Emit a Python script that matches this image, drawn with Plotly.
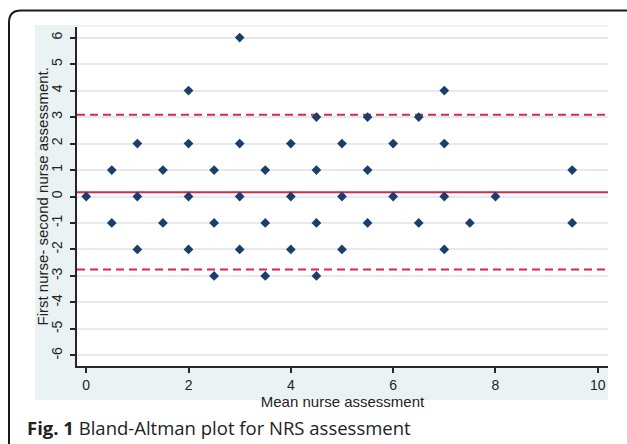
import plotly.graph_objects as go

# ---- data ----
mean_assessment = [3,
                   2, 7,
                   4.5, 5.5, 6.5,
                   1, 2, 3, 4, 5, 6, 7,
                   0.5, 1.5, 2.5, 3.5, 4.5, 5.5, 9.5,
                   0, 1, 2, 3, 4, 5, 6, 7, 8,
                   0.5, 1.5, 2.5, 3.5, 4.5, 5.5, 6.5, 7.5, 9.5,
                   1, 2, 3, 4, 5, 7,
                   2.5, 3.5, 4.5]
difference = [6,
              4, 4,
              3, 3, 3,
              2, 2, 2, 2, 2, 2, 2,
              1, 1, 1, 1, 1, 1, 1,
              0, 0, 0, 0, 0, 0, 0, 0, 0,
              -1, -1, -1, -1, -1, -1, -1, -1, -1,
              -2, -2, -2, -2, -2, -2,
              -3, -3, -3]
mean_diff = 0.16
upper_loa = 3.09
lower_loa = -2.76
x_ticks = [0, 2, 4, 6, 8, 10]
y_ticks = [-6, -5, -4, -3, -2, -1, 0, 1, 2, 3, 4, 5, 6]

# ---- layout geometry (pixels) ----
W, H = 627, 444
ML, MR, MT, MB = 77, 19, 27, 78
PW, PH = W - ML - MR, H - MT - MB


def px(x):
    return (x - ML) / PW


def py(y):
    return (H - MB - y) / PH


RED = "#D72650"
NAVY = "#1B3F6D"
AXIS = "#262626"
SHADE = "#EAF2F3"
GRID = "#E2ECEE"
TXT = "#222"

fig = go.Figure()

x_span = [-0.18, 10.2]
for val, dash in [(upper_loa, "8px,5px"), (lower_loa, "8px,5px"), (mean_diff, "solid")]:
    fig.add_trace(go.Scatter(x=x_span, y=[val, val], mode="lines",
                             line=dict(color=RED, width=2, dash=dash),
                             hoverinfo="skip", showlegend=False, cliponaxis=True))

fig.add_trace(go.Scatter(x=mean_assessment, y=difference, mode="markers",
                         marker=dict(symbol="diamond", size=7.5, color=NAVY,
                                     line=dict(width=0)),
                         showlegend=False))

# frame path with rounded top-left corner
fx, ftop, r = 9, 10.5, 12
frame = (f"M {px(fx)},{py(460)} L {px(fx)},{py(ftop + r)} "
         f"Q {px(fx)},{py(ftop)} {px(fx + r)},{py(ftop)} L {px(650)},{py(ftop)}")

shapes = [
    dict(type="rect", xref="paper", yref="paper", x0=px(35), x1=px(608),
         y0=py(400), y1=py(25), fillcolor=SHADE, line=dict(width=0), layer="below"),
    dict(type="rect", xref="paper", yref="paper", x0=0, x1=1, y0=0, y1=1,
         fillcolor="white", line=dict(width=0), layer="below"),
    dict(type="path", xref="paper", yref="paper", path=frame,
         line=dict(color="#1a1a1a", width=2), layer="above"),
]

fig.update_layout(
    width=W, height=H,
    margin=dict(l=ML, r=MR, t=MT, b=MB, pad=0),
    paper_bgcolor="white",
    plot_bgcolor="rgba(0,0,0,0)",
    shapes=shapes,
    showlegend=False,
    font=dict(family="Liberation Sans, Arial, sans-serif", size=14, color=TXT),
    xaxis=dict(range=x_span, tickmode="array", tickvals=x_ticks,
               ticktext=[str(t) for t in x_ticks],
               showgrid=False, zeroline=False,
               showline=True, linecolor=AXIS, linewidth=1.5,
               ticks="outside", ticklen=5, tickwidth=1.5, tickcolor=AXIS,
               tickfont=dict(size=14, color=TXT),
               title=dict(text="Mean nurse assessment", standoff=0,
                          font=dict(size=15, color=TXT))),
    yaxis=dict(range=[-6.4, 6.4], tickmode="array", tickvals=y_ticks,
               ticktext=[str(t) for t in y_ticks],
               showgrid=True, gridcolor=GRID, gridwidth=1.5, zeroline=False,
               showline=True, linecolor=AXIS, linewidth=1.5,
               ticks="outside", ticklen=5, tickwidth=1.5, tickcolor=AXIS,
               tickangle=-90, ticklabelstandoff=3,
               tickfont=dict(size=14, color=TXT)),
    annotations=[
        dict(text="First nurse- second nurse assessment.",
             xref="paper", yref="paper", x=px(42), y=0.5, textangle=-90,
             xanchor="center", yanchor="middle", showarrow=False,
             font=dict(size=15, color=TXT)),
        dict(text="<b>Fig. 1</b> Bland-Altman plot for NRS assessment",
             xref="paper", yref="paper", x=px(25), y=py(428),
             xanchor="left", yanchor="middle", showarrow=False,
             font=dict(family="Open Sans, Noto Sans, sans-serif", size=18.5,
                       color=TXT)),
    ],
)

fig.write_html("out.html", config={"displayModeBar": False},
               post_script="document.body.style.margin='0';"
                           "document.body.style.overflow='hidden';")
